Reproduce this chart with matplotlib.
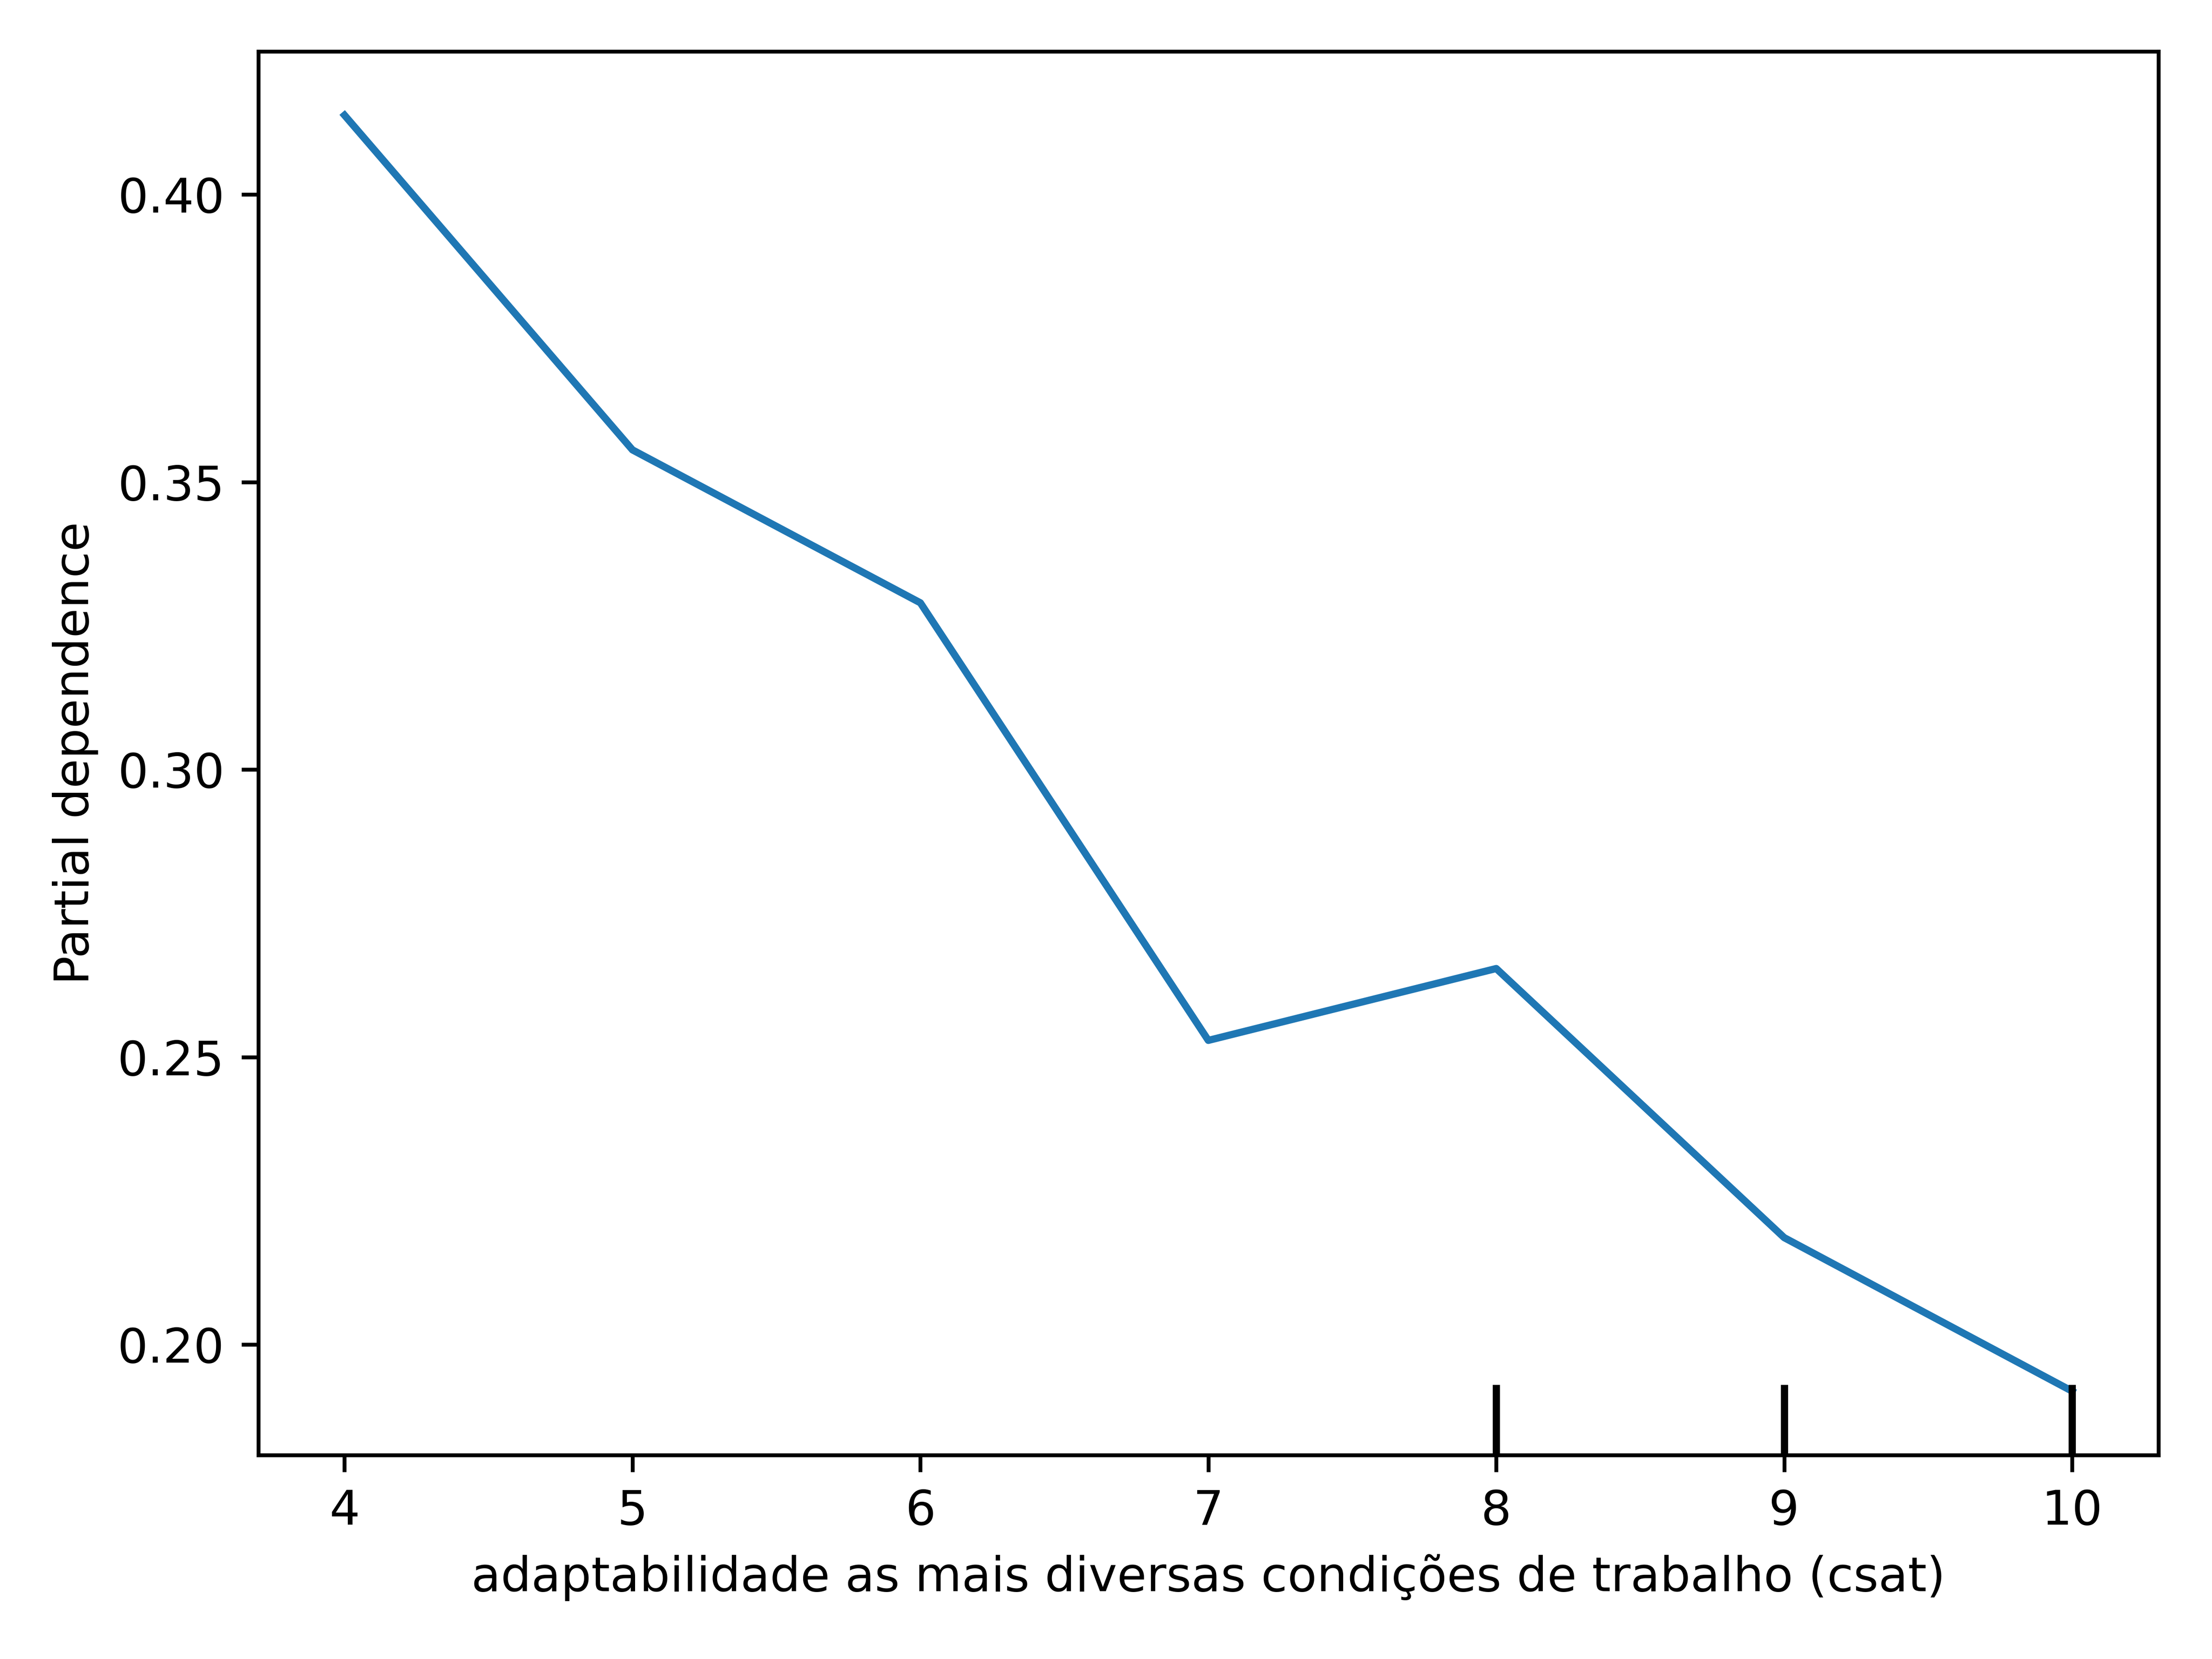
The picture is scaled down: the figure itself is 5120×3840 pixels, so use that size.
import matplotlib
matplotlib.use("Agg")
import matplotlib.pyplot as plt
import matplotlib.transforms as mtransforms

# Data
grid_values = [4, 5, 6, 7, 8, 9, 10]
partial_dependence = [0.4138, 0.3556, 0.3290, 0.2529, 0.2654, 0.2186, 0.1919]
deciles = [8, 9, 10]
x_label = "adaptabilidade as mais diversas condições de trabalho (csat)"
y_label = "Partial dependence"

fig = plt.figure(figsize=(6.4, 4.8), dpi=800)
ax = fig.add_axes([0.1167, 0.123, 0.9758 - 0.1167, 0.969 - 0.123])

ax.plot(grid_values, partial_dependence, color="#1f77b4", linewidth=1.5)

trans = mtransforms.blended_transform_factory(ax.transData, ax.transAxes)
ax.vlines(deciles, 0, 0.05, transform=trans, colors="k", linewidth=1.5)

ax.set_xlabel(x_label)
ax.set_ylabel(y_label)

fig.savefig("out.png", dpi=800)
